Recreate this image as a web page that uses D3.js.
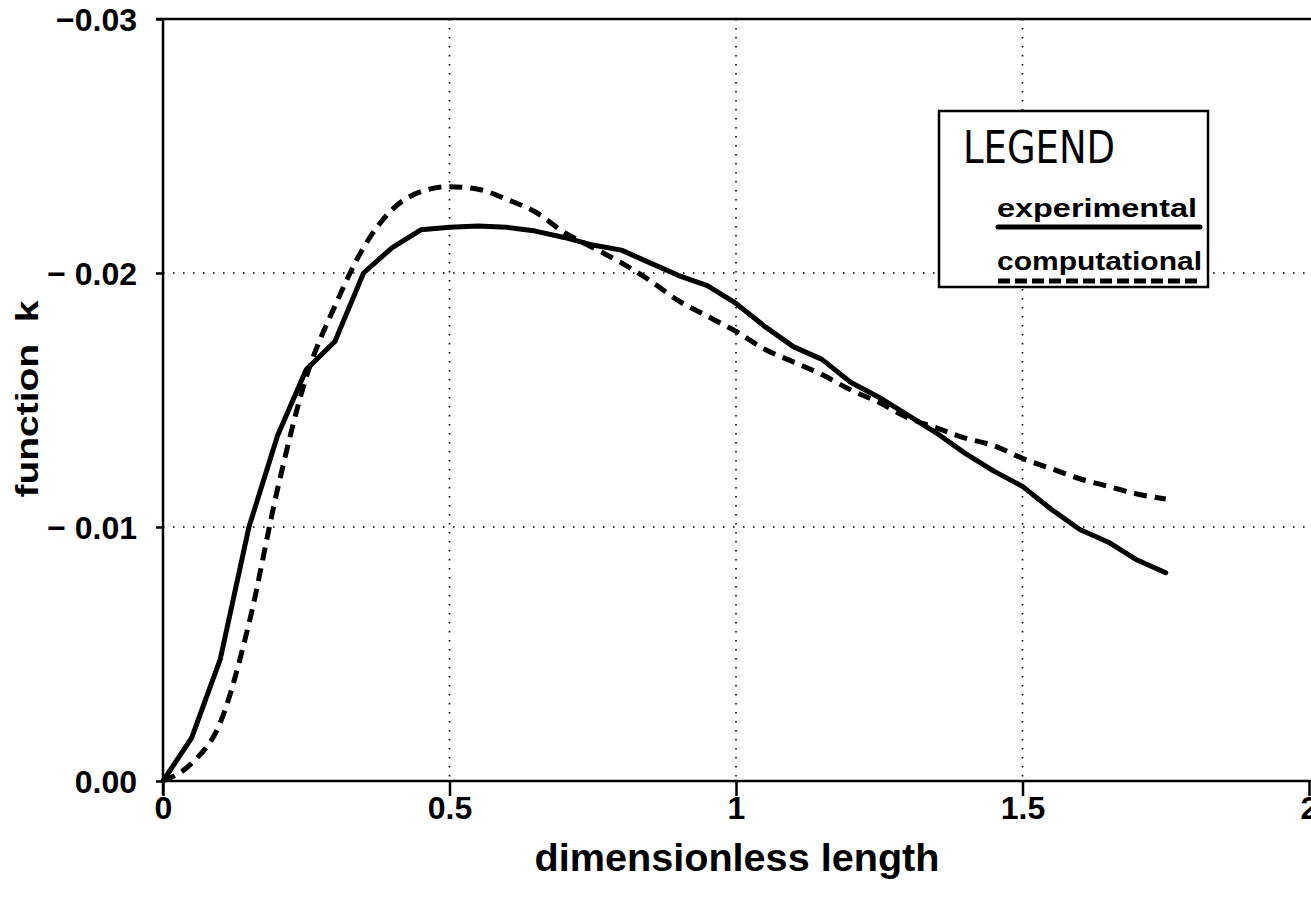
<!DOCTYPE html>
<html><head><meta charset="utf-8">
<script src="https://cdn.jsdelivr.net/npm/d3@7"></script>
<style>
body{margin:0;background:#fff;}
svg{display:block;}
text{font-family:"Liberation Sans",Arial,sans-serif;fill:#000;}
</style></head>
<body>
<svg id="chart" width="1311" height="898"></svg>
<script>
const xValues = [0,0.05,0.1,0.15,0.2,0.25,0.3,0.35,0.4,0.45,0.5,0.55,0.6,0.65,0.7,0.75,0.8,0.85,0.9,0.95,1.0,1.05,1.1,1.15,1.2,1.25,1.3,1.35,1.4,1.45,1.5,1.55,1.6,1.65,1.7,1.75];
const experimental = [0,0.0017,0.0048,0.0100,0.0136,0.0162,0.0173,0.0200,0.0210,0.0217,0.0218,0.02185,0.0218,0.02165,0.0214,0.0211,0.0209,0.0204,0.0199,0.0195,0.0188,0.0179,0.0171,0.0166,0.0157,0.0151,0.0144,0.0137,0.0129,0.0122,0.0116,0.0107,0.0099,0.0094,0.0087,0.0082];
const computational = [0,0.0007,0.0023,0.0062,0.0115,0.0159,0.0187,0.0210,0.0225,0.0232,0.0234,0.0233,0.0229,0.0224,0.0216,0.0210,0.0204,0.0197,0.0189,0.0183,0.0177,0.0170,0.0165,0.0160,0.0154,0.0149,0.0143,0.0139,0.0135,0.0132,0.0127,0.0123,0.0119,0.0116,0.0113,0.0111];
const xTicks = [0,0.5,1,1.5,2];
const xTickLabels = ["0","0.5","1","1.5","2"];
const yTicks = [0,0.01,0.02,0.03];
const yTickLabels = ["0.00","\u2212 0.01","\u2212 0.02","\u22120.03"];
const seriesNames = ["experimental","computational"];

const svg = d3.select("#chart");
const x = d3.scaleLinear().domain([0,2]).range([163,1309]);
const y = d3.scaleLinear().domain([0,0.03]).range([781,19]);

// grid
svg.append("g").selectAll("line").data([0.5,1,1.5]).join("line")
  .attr("x1",d=>x(d)).attr("x2",d=>x(d)).attr("y1",y(0.03)).attr("y2",y(0))
  .attr("stroke","#000").attr("stroke-width",1.6).attr("stroke-dasharray","1.6 7.4");
svg.append("g").selectAll("line").data([0.01,0.02]).join("line")
  .attr("x1",x(0)).attr("x2",1311).attr("y1",d=>y(d)).attr("y2",d=>y(d))
  .attr("stroke","#000").attr("stroke-width",1.6).attr("stroke-dasharray","1.6 8.4");

// axes
const xAxis = d3.axisBottom(x).tickValues(xTicks).tickSize(15).tickFormat((d,i)=>xTickLabels[i]);
const gx = svg.append("g").attr("transform",`translate(0,${y(0)})`).call(xAxis);
gx.attr("font-size",null).attr("font-family",null);
gx.select(".domain").attr("stroke","#000").attr("stroke-width",2.5).attr("d",`M${x(0)},0H1311`);
gx.selectAll(".tick line").attr("stroke","#000").attr("stroke-width",2.5);
gx.selectAll(".tick text").style("font-size","32px").attr("font-weight","bold").attr("dy",0).attr("y",38);

const yAxis = d3.axisLeft(y).tickValues(yTicks).tickSize(7).tickFormat((d,i)=>yTickLabels[i]);
const gy = svg.append("g").attr("transform",`translate(${x(0)},0)`).call(yAxis);
gy.attr("font-size",null).attr("font-family",null);
gy.select(".domain").attr("stroke","#000").attr("stroke-width",2.5).attr("d",`M0,${y(0)+14}V${y(0.03)}`);
gy.selectAll(".tick line").attr("stroke","#000").attr("stroke-width",2.5);
gy.selectAll(".tick text").style("font-size","32px").attr("font-weight","bold").attr("x",-26).attr("dy","0.36em");

// top frame line
svg.append("line").attr("x1",x(0)-7).attr("x2",1311).attr("y1",y(0.03)).attr("y2",y(0.03))
  .attr("stroke","#000").attr("stroke-width",2.5);

// titles
svg.append("text").attr("x",737).attr("y",871).attr("text-anchor","middle")
  .style("font-size","39px").attr("font-weight","bold")
  .attr("textLength",405).attr("lengthAdjust","spacingAndGlyphs").text("dimensionless length");
svg.append("text").attr("transform","translate(38,399) rotate(-90)").attr("text-anchor","middle")
  .style("font-size","32px").attr("font-weight","bold").style("white-space","pre")
  .attr("textLength",197).attr("lengthAdjust","spacingAndGlyphs").text("function  k");

// lines
const line = d3.line().x((d,i)=>x(xValues[i])).y(d=>y(d));
svg.append("path").datum(experimental).attr("d",line).attr("fill","none")
  .attr("stroke","#000").attr("stroke-width",5).attr("stroke-linejoin","round").attr("stroke-linecap","round");
svg.append("path").datum(computational).attr("d",d3.line().x((d,i)=>x(xValues[i])).y(d=>y(d)).curve(d3.curveMonotoneX)).attr("fill","none")
  .attr("stroke","#000").attr("stroke-width",5).attr("stroke-dasharray","13 8").attr("stroke-linecap","butt");

// legend
const lg = svg.append("g");
lg.append("rect").attr("x",939).attr("y",111).attr("width",269).attr("height",176)
  .attr("fill","#fff").attr("stroke","#000").attr("stroke-width",2.5);
lg.append("text").attr("x",963).attr("y",163).style("font-size","44px")
  .style("font-family","'Liberation Sans Narrow','DejaVu Sans Condensed',sans-serif")
  .attr("textLength",152).attr("lengthAdjust","spacingAndGlyphs").text("LEGEND");
lg.append("text").attr("x",997).attr("y",217).style("font-size","25px").attr("font-weight","bold")
  .attr("textLength",200).attr("lengthAdjust","spacingAndGlyphs").text(seriesNames[0]);
lg.append("line").attr("x1",998).attr("x2",1200).attr("y1",227).attr("y2",227)
  .attr("stroke","#000").attr("stroke-width",5).attr("stroke-linecap","round");
lg.append("text").attr("x",997).attr("y",270).style("font-size","25px").attr("font-weight","bold")
  .attr("textLength",205).attr("lengthAdjust","spacingAndGlyphs").text(seriesNames[1]);
lg.append("line").attr("x1",998).attr("x2",1202).attr("y1",281).attr("y2",281)
  .attr("stroke","#000").attr("stroke-width",5).attr("stroke-dasharray","12 5");
</script>
</body></html>
